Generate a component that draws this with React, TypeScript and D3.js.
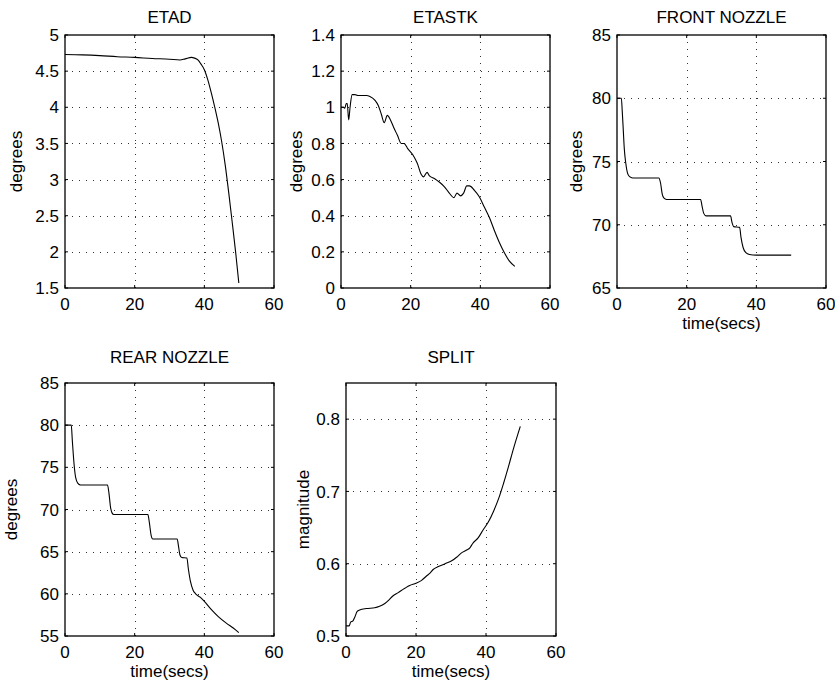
import { useRef, useEffect } from 'react';
import * as d3 from 'd3';

// values
const xTicks = [0, 20, 40, 60];

const etadTime = [0, 5, 10, 15, 20, 25, 30, 33, 34.5, 36.3, 37.2, 38.3, 39, 40, 41, 42, 43, 44, 45, 46, 47, 48, 49, 49.9];
const etadDeg = [4.73, 4.725, 4.715, 4.7, 4.69, 4.675, 4.665, 4.655, 4.67, 4.69, 4.68, 4.65, 4.6, 4.52, 4.38, 4.2, 4.0, 3.78, 3.52, 3.2, 2.82, 2.41, 1.99, 1.57];

const etastkTime = [0, 0.7, 1.1, 1.5, 1.8, 2.2, 2.6, 3.2, 4, 4.8, 7.3, 8.3, 9.7, 10.7, 11.6, 12.4, 13.3, 14.2, 15.1, 16.2, 17.3, 18.1, 19.2, 20.7, 21.9, 23, 23.7, 24.7, 25.4, 26.9, 28.3, 29.7, 31.1, 32.4, 33.3, 34.3, 35.2, 36.1, 36.9, 38.3, 39.7, 41.1, 42.6, 44, 45.4, 46.9, 48.3, 49.9];
const etastkDeg = [1.0, 1.0, 0.995, 1.02, 1.02, 0.93, 1.0, 1.07, 1.07, 1.065, 1.065, 1.06, 1.04, 1.01, 0.96, 0.915, 0.955, 0.93, 0.89, 0.845, 0.8, 0.8, 0.77, 0.735, 0.69, 0.63, 0.615, 0.64, 0.62, 0.605, 0.585, 0.56, 0.525, 0.5, 0.525, 0.51, 0.525, 0.565, 0.565, 0.54, 0.505, 0.45, 0.39, 0.32, 0.255, 0.195, 0.15, 0.12];

const frontTime = [0, 1.25, 1.5, 1.8, 2.1, 2.5, 3.0, 3.6, 4.5, 12.0, 12.5, 13.0, 13.5, 14.2, 24.0, 24.4, 24.9, 25.6, 32.6, 33.0, 33.5, 35.2, 35.6, 36.2, 37.0, 38.0, 40.0, 50.0];
const frontDeg = [80, 80, 79, 77.5, 76.0, 74.9, 74.1, 73.8, 73.7, 73.7, 73.3, 72.4, 72.1, 72.0, 72.0, 71.5, 70.9, 70.7, 70.7, 70.2, 69.85, 69.8, 69.0, 68.2, 67.8, 67.65, 67.6, 67.6];

const rearTime = [0, 1.8, 2.1, 2.6, 3.05, 3.7, 4.5, 12.2, 12.6, 13.1, 13.5, 14.0, 23.8, 24.2, 24.7, 25.2, 32.2, 32.6, 33.0, 33.5, 35.0, 35.4, 36.0, 36.8, 37.5, 38.8, 40.0, 42.1, 44.0, 46.4, 48.3, 49.9];
const rearDeg = [80, 80, 78.2, 75.4, 73.8, 73.1, 72.9, 72.9, 72.0, 70.2, 69.6, 69.4, 69.4, 68.5, 67.0, 66.5, 66.5, 65.6, 64.6, 64.3, 64.25, 63.0, 61.5, 60.4, 60.0, 59.6, 59.1, 58.1, 57.3, 56.5, 55.95, 55.4];

const splitTime = [0, 0.9, 1.3, 2.0, 2.5, 3.2, 3.9, 5.8, 8.2, 9.6, 11.1, 12.3, 13.3, 14.9, 16.8, 18.2, 20, 21.6, 23, 24, 24.9, 26.4, 28.3, 30.2, 31.6, 33, 34.5, 35.4, 36.2, 37.8, 39.2, 40.7, 42.1, 43.6, 45, 46.4, 47.9, 49.8];
const splitMag = [0.514, 0.514, 0.519, 0.521, 0.526, 0.534, 0.536, 0.538, 0.539, 0.541, 0.545, 0.55, 0.555, 0.56, 0.566, 0.57, 0.573, 0.577, 0.583, 0.587, 0.592, 0.596, 0.6, 0.604, 0.609, 0.615, 0.619, 0.622, 0.628, 0.636, 0.647, 0.658, 0.672, 0.69, 0.711, 0.734, 0.76, 0.79];

const etadTicks = [1.5, 2, 2.5, 3, 3.5, 4, 4.5, 5];
const etastkTicks = [0, 0.2, 0.4, 0.6, 0.8, 1, 1.2, 1.4];
const frontTicks = [65, 70, 75, 80, 85];
const rearTicks = [55, 60, 65, 70, 75, 80, 85];
const splitTicks = [0.5, 0.6, 0.7, 0.8];

// layout of the five subplots (left, top, width, height)
const panels = [
  { title: 'ETAD', ylabel: 'degrees', xlabel: '', t: etadTime, v: etadDeg, yDomain: [1.5, 5], yTicks: etadTicks, box: [65, 35, 209, 253], titleY: 23, ylabelX: 22 },
  { title: 'ETASTK', ylabel: 'degrees', xlabel: '', t: etastkTime, v: etastkDeg, yDomain: [0, 1.4], yTicks: etastkTicks, box: [341, 35, 209, 253], titleY: 23, ylabelX: 302 },
  { title: 'FRONT NOZZLE', ylabel: 'degrees', xlabel: 'time(secs)', t: frontTime, v: frontDeg, yDomain: [65, 85], yTicks: frontTicks, box: [617, 35, 209, 253], titleY: 23, ylabelX: 582 },
  { title: 'REAR NOZZLE', ylabel: 'degrees', xlabel: 'time(secs)', t: rearTime, v: rearDeg, yDomain: [55, 85], yTicks: rearTicks, box: [65, 383, 209, 253], titleY: 363, ylabelX: 17 },
  { title: 'SPLIT', ylabel: 'magnitude', xlabel: 'time(secs)', t: splitTime, v: splitMag, yDomain: [0.5, 0.85], yTicks: splitTicks, box: [346, 383, 210, 253], titleY: 363, ylabelX: 309 },
];

const FONT = '"Liberation Sans", Arial, Helvetica, sans-serif';

const App = () => {
  const svgRef = useRef<SVGSVGElement>(null);

  useEffect(() => {
    const svg = d3.select(svgRef.current);
    svg.selectAll('*').remove();

    panels.forEach(p => {
      const [left, top, w, h] = p.box;
      const x = d3.scaleLinear().domain([0, 60]).range([left, left + w]);
      const y = d3.scaleLinear().domain(p.yDomain).range([top + h, top]);
      const g = svg.append('g').style('font-family', FONT).style('font-size', '17px');

      // dotted grid
      const innerX = xTicks.filter(d => d > 0 && d < 60);
      const innerY = p.yTicks.filter(d => d > p.yDomain[0] && d < p.yDomain[1]);
      g.selectAll('.gx').data(innerX).join('line')
        .attr('x1', d => Math.round(x(d)) + 0.5).attr('x2', d => Math.round(x(d)) + 0.5)
        .attr('y1', top).attr('y2', top + h)
        .attr('stroke', '#333').attr('stroke-dasharray', '1,6');
      g.selectAll('.gy').data(innerY).join('line')
        .attr('x1', left).attr('x2', left + w)
        .attr('y1', d => Math.round(y(d)) + 0.5).attr('y2', d => Math.round(y(d)) + 0.5)
        .attr('stroke', '#333').attr('stroke-dasharray', '1,6');

      // inward ticks on all four sides
      const tl = 3;
      xTicks.forEach(d => {
        g.append('line').attr('x1', x(d)).attr('x2', x(d)).attr('y1', top + h).attr('y2', top + h - tl).attr('stroke', '#000');
        g.append('line').attr('x1', x(d)).attr('x2', x(d)).attr('y1', top).attr('y2', top + tl).attr('stroke', '#000');
      });
      p.yTicks.forEach(d => {
        g.append('line').attr('x1', left).attr('x2', left + tl).attr('y1', y(d)).attr('y2', y(d)).attr('stroke', '#000');
        g.append('line').attr('x1', left + w).attr('x2', left + w - tl).attr('y1', y(d)).attr('y2', y(d)).attr('stroke', '#000');
      });

      // the curve
      const pts = p.t.map((t, i) => [t, p.v[i]] as [number, number]);
      g.append('path')
        .datum(pts)
        .attr('fill', 'none')
        .attr('stroke', '#000')
        .attr('stroke-width', 1.1)
        .attr('d', d3.line<[number, number]>().x(d => x(d[0])).y(d => y(d[1])).curve(d3.curveMonotoneX));

      // axes box
      g.append('rect')
        .attr('x', left).attr('y', top).attr('width', w).attr('height', h)
        .attr('fill', 'none').attr('stroke', '#000').attr('stroke-width', 1.3);

      // tick labels
      g.selectAll('.xl').data(xTicks).join('text')
        .attr('x', d => x(d)).attr('y', top + h + 22)
        .attr('text-anchor', 'middle').text(d => String(d));
      g.selectAll('.yl').data(p.yTicks).join('text')
        .attr('x', left - 6).attr('y', d => y(d)).attr('dy', '0.36em')
        .attr('text-anchor', 'end').text(d => String(d));

      // title and axis labels
      g.append('text').attr('x', left + w / 2).attr('y', p.titleY)
        .attr('text-anchor', 'middle').text(p.title);
      g.append('text')
        .attr('transform', `translate(${p.ylabelX},${top + h / 2}) rotate(-90)`)
        .attr('text-anchor', 'middle').text(p.ylabel);
      if (p.xlabel) {
        g.append('text').attr('x', left + w / 2).attr('y', top + h + 41)
          .attr('text-anchor', 'middle').text(p.xlabel);
      }
    });
  }, []);

  return (
    <svg ref={svgRef} width="835" height="680"
      style={{ position: 'absolute', left: 0, top: 0, background: '#fff' }} />
  );
};

export default App;
